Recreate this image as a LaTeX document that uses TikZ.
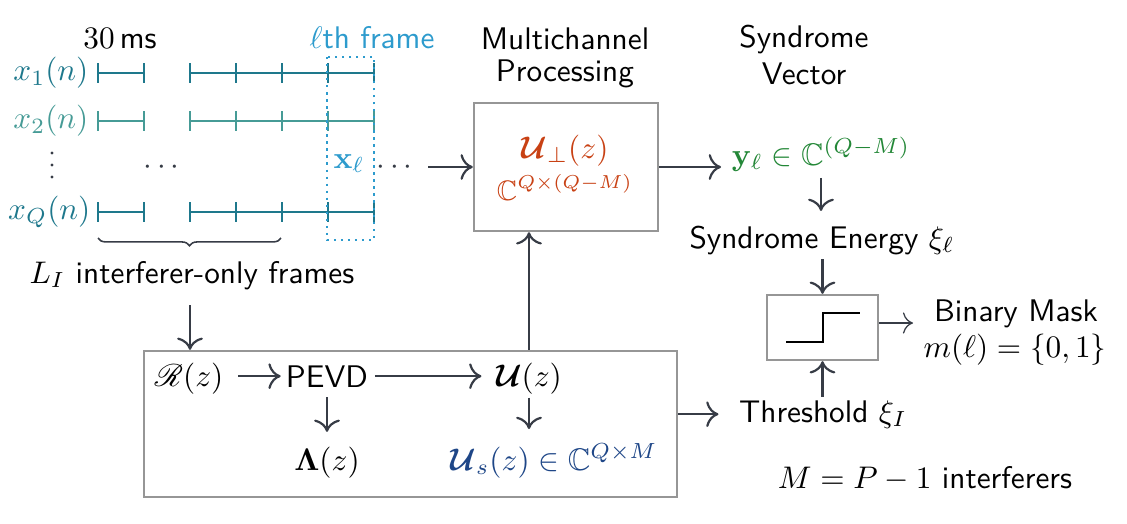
\documentclass[tikz,border=0pt]{standalone}
\usepackage{amsmath,amssymb,bm,mathrsfs}
\usetikzlibrary{decorations.pathreplacing,calc,arrows.meta}
\definecolor{tealA}{RGB}{30,120,140}
\definecolor{tealB}{RGB}{70,155,150}
\definecolor{frameblue}{RGB}{45,155,205}
\definecolor{orng}{RGB}{200,65,20}
\definecolor{grn}{RGB}{35,135,55}
\definecolor{dblue}{RGB}{30,70,135}
\definecolor{linec}{RGB}{55,60,70}
\definecolor{boxc}{RGB}{150,150,150}
\begin{document}
\begin{tikzpicture}[x=0.32pt,y=-0.32pt,
  every node/.style={inner sep=0pt, font=\sffamily},
  arr/.style={-{To[scale=1.25]}, line width=0.7pt, draw=linec},
  thinarr/.style={-{To[scale=1.3]}, line width=0.4pt, draw=linec},
  box/.style={draw=boxc, line width=0.75pt, inner sep=0pt},
  sig/.style={line width=0.75pt},
  ]
\useasboundingbox (0,0) rectangle (1127,523);

% signal rows
\foreach \yy/\cc in {73/tealA,121/tealB,212/tealA} {
  \draw[\cc, sig] (98,\yy) -- (144,\yy);
  \draw[\cc, sig] (190,\yy) -- (374,\yy);
  \foreach \t in {98,144,190,236,282,328,374}
    \draw[\cc, sig] (\t,\yy-10) -- (\t,\yy+10);
}
\node[tealA, anchor=east] (x1) at (89,73) {$x_1(n)$};
\node[tealB, anchor=east] (x2) at (89,121) {$x_2(n)$};
\node[tealA, anchor=east] (xQ) at (91,212) {$x_Q(n)$};
% vertical dots
\foreach \dy in {153,165,177}
  \fill[linec] (52,\dy) circle (0.55pt);
\node[linec, anchor=base] (hd) at (164,174) {$\cdots$};

% l-th frame
\draw[frameblue, line width=0.75pt, dash pattern=on 0.75pt off 1.5pt] (327,57) rectangle (374,240);
\node[anchor=base] (ms) at (120,48) {$30\,$ms};
\node[frameblue, anchor=base] (lth) at (372,48) {$\ell$th frame};
\node[frameblue, anchor=base] (xl) at (349,168) {$\mathbf{x}_\ell$};
\node[linec, anchor=base] (hd2) at (397,174) {$\cdots$};

% brace
\draw[decorate, decoration={brace, mirror, amplitude=2.5pt}, linec, line width=0.5pt] (98,238) -- (281,238);
\node[anchor=base] (LI) at (192,283) {$L_I$ interferer-only frames};

% multichannel processing
\node[align=center] (mcp) at (565,58) {Multichannel\\[-1.7pt]Processing};
\node[box, minimum width=58.9pt, minimum height=41pt] (up) at (566,167) {};
\node[orng, anchor=base] (Uperp) at (565,158) {$\bm{\mathcal{U}}_{\perp}(z)$};
\node[orng, anchor=base, font=\small] (Cperp) at (565,200) {$\mathbb{C}^{Q\times(Q-M)}$};

% syndrome
\node[align=center] (sv) at (804,55) {Syndrome\\Vector};
\node[grn, anchor=base] (yv) at (821,165) {$\mathbf{y}_\ell \in \mathbb{C}^{(Q-M)}$};
\node[anchor=base] (SE) at (822,248) {Syndrome Energy $\xi_\ell$};
\node[box, minimum width=35.5pt, minimum height=20.8pt] (th) at (822.5,327.5) {};
\draw[black, line width=0.9pt] (786,342) -- (823,342) -- (823,313) -- (860,313);
\node[anchor=base] (BM) at (1016,321) {Binary Mask};
\node[anchor=base] (mset) at (1015,357) {$m(\ell)=\{0,1\}$};
\node[anchor=base] (Thr) at (823,422) {Threshold $\xi_I$};
\node[anchor=base] (MP) at (925,488) {$M=P-1$ interferers};

% PEVD box
\node[box, minimum width=170.6pt, minimum height=46.7pt] (big) at (410.5,424) {};
\node[anchor=base] (R) at (189,386) {$\bm{\mathscr{R}}(z)$};
\node[anchor=base] (PEVD) at (327,387) {PEVD};
\node[anchor=base] (U) at (529,386) {$\bm{\mathcal{U}}(z)$};
\node[anchor=base] (Lam) at (327,470) {$\bm{\Lambda}(z)$};
\node[dblue, anchor=base] (Us) at (554,470) {$\bm{\mathcal{U}}_s(z)\in\mathbb{C}^{Q\times M}$};

% coordinates for free ends
\coordinate (a0) at (428,167);
\coordinate (a1) at (721,167);
\coordinate (mo) at (913,323);
\coordinate (lix) at (190,305);

% connectors
\draw[arr] (a0) -- (up.west);
\draw[arr] (up.east) -- (a1);
\draw[arr, shorten <=2pt, shorten >=4.5pt] (yv.south) -- (yv.south |- SE.north);
\draw[arr, shorten <=1.3pt] (SE.south -| th.north) -- (th.north);
\draw[arr, shorten <=1pt] (Thr.north -| th.south) -- (th.south);
\draw[thinarr] (th.east |- mo) -- (mo);
\draw[arr, shorten >=6.4pt] (Thr.west -| big.east) -- (Thr.west);
\draw[arr] (lix) -- (lix |- big.north);
\draw[arr] (U |- big.north) -- (U |- up.south);
\draw[arr, shorten <=4.5pt, shorten >=1.5pt] (R.east |- PEVD.west) -- (PEVD.west);
\draw[arr, shorten <=2pt, shorten >=4.5pt] (PEVD.east) -- (PEVD.east -| U.west);
\draw[arr, shorten <=3pt, shorten >=4.5pt] (PEVD.south) -- (PEVD.south |- Lam.north);
\draw[arr, shorten <=1pt, shorten >=4.5pt] (U.south) -- (U.south |- Us.north);
\end{tikzpicture}
\end{document}
